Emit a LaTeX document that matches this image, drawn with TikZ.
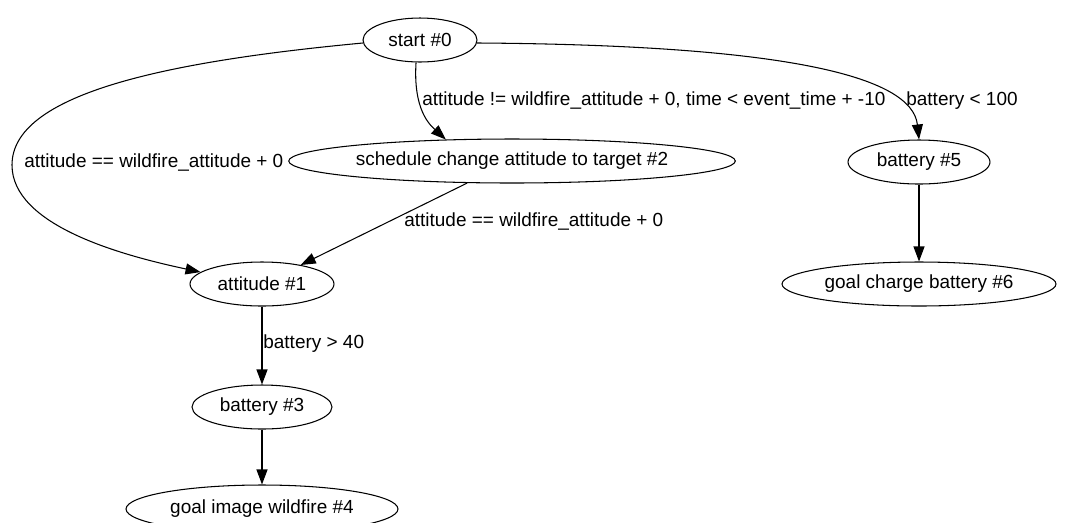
\documentclass[tikz,border=0pt]{standalone}
\usepackage{fontspec}
\setmainfont{Liberation Sans}
\usetikzlibrary{arrows.meta,shapes.geometric}
\tikzset{
    state/.style={ellipse, draw, line width=0.6pt, minimum height=0.88cm, inner sep=1pt, font=\fontsize{10.8}{12}\selectfont},
    edge/.style={-{Triangle[length=0.3cm, width=0.22cm]}, line width=0.6pt},
    lbl/.style={anchor=west, inner sep=0pt, font=\fontsize{10.8}{12}\selectfont}
}

\begin{document}
\begin{tikzpicture}[x=0.02cm, y=-0.02cm]
    \useasboundingbox (0,0) rectangle (1071,522);

    % states
    \node[state, minimum width=2.28cm] (S0) at (420,40) {start \#0};
    \node[state, minimum width=8.8cm] (S2) at (512,161) {schedule change attitude to target \#2};
    \node[state, minimum width=2.88cm] (S1) at (262,284) {attitude \#1};
    \node[state, minimum width=2.8cm] (S3) at (262,407) {battery \#3};
    \node[state, minimum width=5.44cm, minimum height=0.96cm] (S4) at (262,509) {goal image wildfire \#4};
    \node[state, minimum width=2.84cm] (S5) at (919,162) {battery \#5};
    \node[state, minimum width=5.48cm] (S6) at (919,284) {goal charge battery \#6};

    % transitions
    \draw[edge] (S0.183) .. controls (160,62) and (12,95) .. (12,165)
        .. controls (12,225) and (120,255) .. (S1.169);
    \draw[edge] (S0.-100) .. controls (413,110) and (430,125) .. (S2.162);
    \draw[edge] (S2) -- (S1);
    \draw[edge] (S0.-3) .. controls (780,45) and (912,75) .. (S5.north);
    \draw[edge] (S1) -- (S3);
    \draw[edge] (S3) -- (S4);
    \draw[edge] (S5) -- (S6);

    % guards
    \node[lbl] (g01) at (24,163) {attitude == wildfire\_attitude + 0};
    \node[lbl] (g02) at (422,101) {attitude != wildfire\_attitude + 0, time < event\_time + -10};
    \node[lbl] (g21) at (404,222) {attitude == wildfire\_attitude + 0};
    \node[lbl] (g05) at (906,101) {battery < 100};
    \node[lbl] (g13) at (263,344) {battery > 40};
\end{tikzpicture}
\end{document}
